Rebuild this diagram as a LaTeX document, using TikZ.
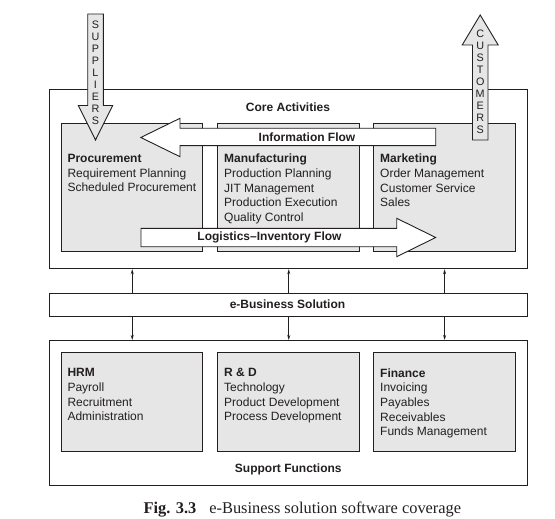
\documentclass[tikz,border=0pt]{standalone}
\usepackage{fontspec}
\setmainfont{Liberation Sans}
\newfontfamily\capfont{Liberation Serif}
\usetikzlibrary{arrows.meta}
\definecolor{boxgray}{HTML}{E6E6E6}
\definecolor{ink}{HTML}{231F20}
\begin{document}
\begin{tikzpicture}[x=1pt,y=-1pt,
  outerbox/.style={draw=ink, line width=0.9pt, fill=white, inner sep=0pt, anchor=north west},
  innerbox/.style={draw=ink, line width=0.9pt, fill=boxgray, inner sep=0pt, anchor=north west},
  bigarrow/.style={draw=ink, line width=0.9pt, line join=miter},
  listtext/.style={inner sep=0pt, anchor=north west, align=left, text=ink, font=\fontsize{12}{14.6}\selectfont},
  label/.style={inner sep=0pt, text=ink, font=\fontsize{12}{14.6}\selectfont\bfseries},
  stack/.style={inner sep=0pt, anchor=north, align=center, text=ink, font=\fontsize{10.8}{12}\selectfont},
  link/.style={draw=ink, line width=0.8pt, -{Stealth[length=5pt,width=3pt]}}]
\useasboundingbox (0,0) rectangle (555,519);

% core activities
\node[outerbox, minimum width=478pt, minimum height=179pt] (core) at (49.3,89.3) {};
\node[innerbox, minimum width=141pt, minimum height=127.7pt] (proc) at (61.3,123.3) {};
\node[innerbox, minimum width=142pt, minimum height=127.7pt] (mfg) at (217.3,123.3) {};
\node[innerbox, minimum width=141.7pt, minimum height=127.7pt] (mkt) at (373.3,123.3) {};
\node[label] (corelabel) at (288,107) {Core Activities};
\node[listtext] (proctext) at (67.3,154) {\textbf{Procurement}\\Requirement Planning\\Scheduled Procurement};
\node[listtext] (mfgtext) at (224,154) {\textbf{Manufacturing}\\Production Planning\\JIT Management\\Production Execution\\Quality Control};
\node[listtext] (mkttext) at (380,154) {\textbf{Marketing}\\Order Management\\Customer Service\\Sales};

% flows
\path[bigarrow, fill=white] (435.7,128.3) -- (180,128.3) -- (180,118.3) -- (140.8,137.5) -- (180,156.7) -- (180,145.7) -- (435.7,145.7) -- cycle;
\node[label] (infolabel) at (307,137.2) {Information Flow};
\path[bigarrow, fill=white] (141,228.3) -- (396.7,228.3) -- (396.7,218.3) -- (435.7,237.5) -- (396.7,256.7) -- (396.7,246.7) -- (141,246.7) -- cycle;
\node[label] (logilabel) at (269.5,237.5) {Logistics--Inventory Flow};

% suppliers / customers
\path[bigarrow, fill=boxgray] (87.7,14) -- (103.3,14) -- (103.3,105.5) -- (112.7,105.5) -- (95.5,140) -- (78.3,105.5) -- (87.7,105.5) -- cycle;
\node[stack] (suppliers) at (95.5,21.2) {S\\U\\P\\P\\L\\I\\E\\R\\S};
\path[bigarrow, fill=boxgray] (472.5,140) -- (488,140) -- (488,45) -- (498.2,45) -- (480.2,15) -- (462.2,45) -- (472.5,45) -- cycle;
\node[stack] (customers) at (480.2,29.6) {C\\U\\S\\T\\O\\M\\E\\R\\S};

% e-business solution
\node[outerbox, minimum width=478pt, minimum height=22.5pt] (ebiz) at (49.3,293) {};
\node[label] (ebizlabel) at (287.5,303.8) {e-Business Solution};

% support functions
\node[outerbox, minimum width=478pt, minimum height=145pt] (support) at (49.3,340) {};
\node[innerbox, minimum width=141pt, minimum height=98.7pt] (hrm) at (61.3,352.3) {};
\node[innerbox, minimum width=142pt, minimum height=98.7pt] (rd) at (217.3,352.3) {};
\node[innerbox, minimum width=142pt, minimum height=98.7pt] (fin) at (373.3,352.3) {};
\node[listtext] (hrmtext) at (67.3,368.4) {\textbf{HRM}\\Payroll\\Recruitment\\Administration};
\node[listtext] (rdtext) at (224,368.4) {\textbf{R \& D}\\Technology\\Product Development\\Process Development};
\node[listtext] (fintext) at (380,368.4) {\textbf{Finance}\\Invoicing\\Payables\\Receivables\\Funds Management};
\node[label] (suplabel) at (288.3,469) {Support Functions};

% connectors
\foreach \b in {proc,mfg,mkt}{
  \draw[link] (ebiz.north -| \b.center) -- (core.south -| \b.center);
  \draw[link] (ebiz.south -| \b.center) -- (support.north -| \b.center);
}

% caption
\node[inner sep=0pt, anchor=base west, text=ink, font=\capfont\fontsize{16.4}{18}\selectfont] (caption) at (143.3,513.3) {\textbf{Fig. 3.3}\hspace{13pt}e-Business solution software coverage};
\end{tikzpicture}
\end{document}
